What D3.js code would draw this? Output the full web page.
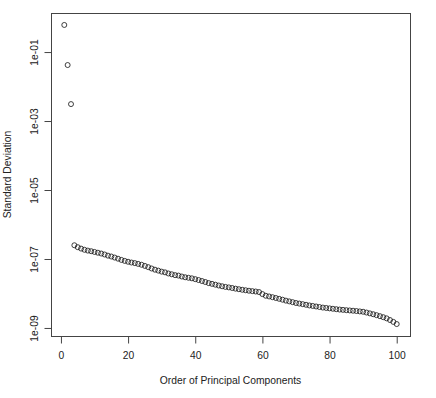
<!DOCTYPE html>
<html>
<head>
<meta charset="utf-8">
<script src="https://cdn.jsdelivr.net/npm/d3@7"></script>
<style>
  body { margin: 0; background: #fff; }
  text { font-family: "Liberation Sans", Arial, sans-serif; fill: #222; }
</style>
</head>
<body>
<div id="chart"></div>
<script>
// standard deviation of each principal component, in order
let components = d3.range(1, 101);
let sdValues = [
    0.61, 0.042, 0.0031, 2.5e-7, 2.2e-7, 2.0e-7, 1.85e-7, 1.75e-7, 1.68e-7, 1.6e-7,
    1.52e-7, 1.44e-7, 1.35e-7, 1.25e-7, 1.18e-7, 1.1e-7, 1.02e-7, 9.4e-8, 8.8e-8, 8.3e-8,
    7.9e-8, 7.6e-8, 7.2e-8, 6.8e-8, 6.3e-8, 5.8e-8, 5.3e-8, 4.9e-8, 4.6e-8, 4.3e-8,
    4.1e-8, 3.8e-8, 3.6e-8, 3.4e-8, 3.3e-8, 3.1e-8, 2.95e-8, 2.85e-8, 2.75e-8, 2.6e-8,
    2.45e-8, 2.3e-8, 2.15e-8, 2.0e-8, 1.9e-8, 1.8e-8, 1.7e-8, 1.62e-8, 1.55e-8, 1.5e-8,
    1.44e-8, 1.38e-8, 1.33e-8, 1.28e-8, 1.24e-8, 1.2e-8, 1.17e-8, 1.14e-8, 1.1e-8, 9.6e-9,
    8.6e-9, 8.2e-9, 7.8e-9, 7.4e-9, 7.0e-9, 6.6e-9, 6.2e-9, 5.9e-9, 5.6e-9, 5.3e-9,
    5.1e-9, 4.9e-9, 4.7e-9, 4.5e-9, 4.35e-9, 4.2e-9, 4.05e-9, 3.9e-9, 3.8e-9, 3.7e-9,
    3.6e-9, 3.5e-9, 3.42e-9, 3.35e-9, 3.28e-9, 3.22e-9, 3.16e-9, 3.1e-9, 3.02e-9, 2.95e-9,
    2.8e-9, 2.65e-9, 2.5e-9, 2.35e-9, 2.2e-9, 2.05e-9, 1.9e-9, 1.7e-9, 1.5e-9, 1.3e-9
];
let xTicks = [0, 20, 40, 60, 80, 100];
let yTicks = [1e-1, 1e-3, 1e-5, 1e-7, 1e-9];
let xLabel = "Order of Principal Components";
let yLabel = "Standard Deviation";

let width = 436, height = 398;
let margin = {top: 13, right: 26, bottom: 62, left: 51};

let svg = d3.select("#chart").append("svg")
    .attr("width", width)
    .attr("height", height);

// R style: pad the data range by 4% on each side
let xExt = d3.extent(components);
let xPad = (xExt[1] - xExt[0]) * 0.04;
let xscale = d3.scaleLinear()
    .domain([xExt[0] - xPad, xExt[1] + xPad])
    .range([margin.left, width - margin.right]);

let lExt = d3.extent(sdValues).map(Math.log10);
let lPad = (lExt[1] - lExt[0]) * 0.04;
let yscale = d3.scaleLog()
    .domain([Math.pow(10, lExt[0] - lPad), Math.pow(10, lExt[1] + lPad)])
    .range([height - margin.bottom, margin.top]);

let fmt = function(d){
    let e = Math.round(Math.log10(d));
    let s = String(Math.abs(e)).padStart(2, "0");
    return "1e" + (e < 0 ? "-" : "+") + s;
};

// box
svg.append("rect")
    .attr("x", margin.left + 0.5)
    .attr("y", margin.top + 0.5)
    .attr("width", width - margin.left - margin.right)
    .attr("height", height - margin.top - margin.bottom)
    .attr("fill", "none")
    .attr("stroke", "#444")
    .attr("stroke-width", 1);

// x axis
let xAxis = svg.append("g")
    .attr("transform", "translate(0," + (height - margin.bottom + 0.5) + ")")
    .call(d3.axisBottom(xscale).tickValues(xTicks).tickSize(7).tickPadding(8).tickSizeOuter(0));
xAxis.select(".domain").remove();
xAxis.selectAll("line").attr("stroke", "#444");
xAxis.selectAll("text")
    .style("font-size", "10.3px")
    .style("font-family", "'Liberation Sans', Arial, sans-serif")
    .attr("fill", "#222");

// y axis
let yAxis = svg.append("g")
    .attr("transform", "translate(" + (margin.left + 0.5) + ",0)")
    .call(d3.axisLeft(yscale).tickValues(yTicks).tickFormat(fmt).tickSize(7).tickPadding(0));
yAxis.select(".domain").remove();
yAxis.selectAll("line").attr("stroke", "#444");
yAxis.selectAll("text")
    .style("font-size", "10.3px")
    .style("font-family", "'Liberation Sans', Arial, sans-serif")
    .attr("fill", "#222")
    .attr("x", null)
    .attr("dy", null)
    .attr("text-anchor", "middle")
    .attr("transform", "translate(-14,0) rotate(-90)");

// axis titles
svg.append("text")
    .attr("x", (margin.left + width - margin.right) / 2)
    .attr("y", 384)
    .attr("text-anchor", "middle")
    .style("font-size", "10.3px")
    .text(xLabel);

svg.append("text")
    .attr("transform", "translate(11," + ((margin.top + height - margin.bottom) / 2) + ") rotate(-90)")
    .attr("text-anchor", "middle")
    .style("font-size", "10.3px")
    .text(yLabel);

// points
let pts = svg.selectAll("circle.pt").data(sdValues);
pts = pts.enter().append("circle").merge(pts);
pts.attr("class", "pt")
    .attr("cx", function(d, i){ return xscale(components[i]); })
    .attr("cy", function(d){ return yscale(d); })
    .attr("r", 2.5)
    .attr("fill", "none")
    .attr("stroke", "#111")
    .attr("stroke-width", 0.8);
</script>
</body>
</html>
